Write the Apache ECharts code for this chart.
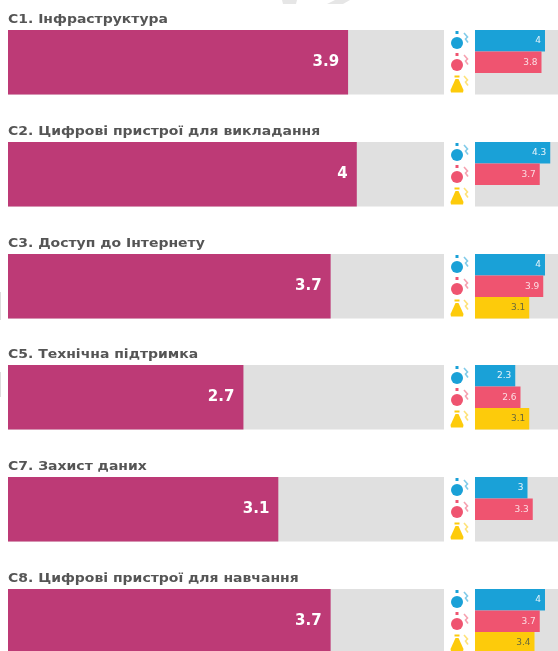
<!DOCTYPE html>
<html><head><meta charset="utf-8">
<style>html,body{margin:0;padding:0;background:#fff;overflow:hidden}#c{width:558px;height:651px;filter:blur(0.7px)}</style>
<script src="https://cdn.jsdelivr.net/npm/echarts@6/dist/echarts.min.js"></script>
</head><body><div id="c"></div>
<script>
const categories = ['C1. Інфраструктура','C2. Цифрові пристрої для викладання','C3. Доступ до Інтернету','C5. Технічна підтримка','C7. Захист даних','C8. Цифрові пристрої для навчання'];
const overall = [3.9,4,3.7,2.7,3.1,3.7];
const blue = [4,4.3,4,2.3,3,4];
const red = [3.8,3.7,3.9,2.6,3.3,3.7];
const yellow = [null,null,3.1,3.1,null,3.4];

const panelTops = [30,142,254,365,477,589];
const panelH = 64.5;
const colors = {main:'#bd3a76',bg:'#e0e0e0',blue:'#1aa1d7',red:'#ef5470',yellow:'#fdcb0b',title:'#555'};

const grid=[],xAxis=[],yAxis=[],series=[],graphic=[];
function addGrid(left,width,top,height){
  const i=grid.length;
  grid.push({left,width,top,height,show:true,backgroundColor:colors.bg,borderWidth:0,containLabel:false,outerBoundsMode:'none'});
  xAxis.push({gridIndex:i,type:'value',min:0,max:5,show:false});
  return i;
}
function icon(x,y,color,kind){
  const children=[];
  if(kind==='tri'){
    children.push({type:'polygon',shape:{points:[[-1.5,-6],[1.5,-6],[6.5,5],[6,7.5],[-6,7.5],[-6.5,5]]},style:{fill:color}});
    children.push({type:'rect',shape:{x:-2.5,y:-9.5,width:5,height:2},style:{fill:color}});
  }else{
    children.push({type:'circle',shape:{cx:0,cy:1,r:6},style:{fill:color}});
    children.push({type:'rect',shape:{x:-1.5,y:-11,width:3,height:3},style:{fill:color}});
  }
  children.push({type:'polyline',shape:{points:[[7,-9],[10.5,-5],[8.5,-3],[11,0.5]]},style:{stroke:color,lineWidth:1.6,fill:'none',opacity:.55}});
  graphic.push({type:'group',x,y,children,silent:true});
}
categories.forEach((cat,k)=>{
  const top=panelTops[k];
  graphic.push({type:'text',x:8,y:top-16,scaleX:1.165,silent:true,
    style:{text:cat,font:'bold 12px "DejaVu Sans"',fill:colors.title,textVerticalAlign:'top'}});
  let g=addGrid(8,436,top,panelH);
  yAxis.push({gridIndex:g,type:'category',data:[cat],show:false});
  series.push({type:'bar',xAxisIndex:g,yAxisIndex:g,data:[overall[k]],barWidth:'100%',itemStyle:{color:colors.main},silent:true,
    label:{show:true,position:'insideRight',distance:9,color:'#fff',fontFamily:'DejaVu Sans',fontSize:15,fontWeight:'bold'}});
  g=addGrid(475,87.5,top,panelH);
  yAxis.push({gridIndex:g,type:'category',inverse:true,data:['a','b','c'],show:false});
  series.push({type:'bar',xAxisIndex:g,yAxisIndex:g,barWidth:'100%',silent:true,
    data:[
      {value:blue[k],itemStyle:{color:colors.blue},label:{color:'#e8f4fa'}},
      {value:red[k],itemStyle:{color:colors.red},label:{color:'#fbdde3'}},
      {value:yellow[k],itemStyle:{color:colors.yellow},label:{color:'#6b6a3a'}}
    ],
    label:{show:true,position:'insideRight',distance:4,fontFamily:'DejaVu Sans',fontSize:9}});
  icon(457,top+12,colors.blue,'c');
  icon(457,top+34,colors.red,'c');
  icon(457,top+55,colors.yellow,'tri');
});
graphic.push({type:'polygon',silent:true,shape:{points:[[282,0],[297,0],[296,4],[283,4]]},style:{fill:'#e6e6e6'}});
graphic.push({type:'polygon',silent:true,shape:{points:[[335,0],[350,0],[343,4],[327,4]]},style:{fill:'#e6e6e6'}});
graphic.push({type:'rect',silent:true,shape:{x:0,y:292,width:1,height:28},style:{fill:'#dcdcdc'}});
graphic.push({type:'rect',silent:true,shape:{x:0,y:372,width:1,height:25},style:{fill:'#dcdcdc'}});

const chart=echarts.init(document.getElementById('c'),null,{renderer:'canvas'});
chart.setOption({animation:false,backgroundColor:'#fff',grid,xAxis,yAxis,series,graphic});
</script></body></html>
